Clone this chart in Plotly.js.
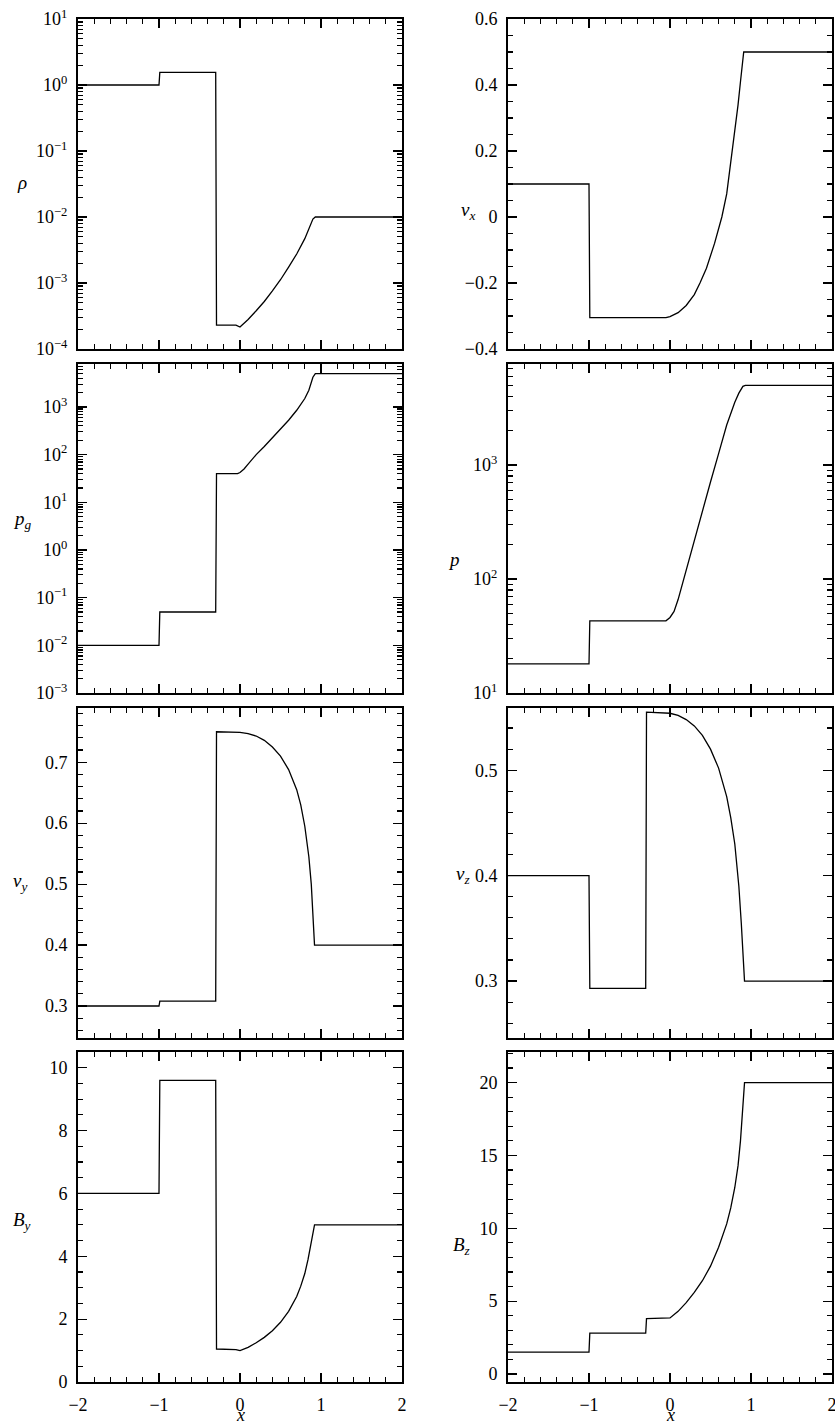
<!DOCTYPE html>
<html><head><meta charset="utf-8">
<script src="https://cdn.plot.ly/plotly-3.0.1.min.js"></script>
<style>html,body{margin:0;padding:0;background:#fff}#chart{width:835px;height:1426px}</style>
</head><body><div id="chart"></div>
<script>
// ---- data ----
const x_rho = [-2, -1.0, -0.99, -0.30, -0.29, -0.05, 0.0, 0.1, 0.2, 0.3, 0.4, 0.5, 0.6, 0.7, 0.8, 0.85, 0.9, 0.93, 2];
const rho   = [1, 1, 1.55, 1.55, 2.3e-4, 2.3e-4, 2.15e-4, 2.8e-4, 3.8e-4, 5.25e-4, 7.6e-4, 1.12e-3, 1.74e-3, 2.75e-3, 4.7e-3, 6.6e-3, 9.3e-3, 1e-2, 1e-2];

const x_vx = [-2, -1.0, -0.99, -0.05, 0.0, 0.1, 0.2, 0.3, 0.37, 0.45, 0.55, 0.64, 0.7, 0.76, 0.8, 0.84, 0.87, 0.89, 0.91, 2];
const vx   = [0.1, 0.1, -0.305, -0.305, -0.302, -0.29, -0.268, -0.235, -0.2, -0.155, -0.08, 0.0, 0.07, 0.18, 0.26, 0.34, 0.41, 0.46, 0.5, 0.5];

const x_pg = [-2, -1.0, -0.99, -0.30, -0.29, -0.03, 0.0, 0.05, 0.1, 0.2, 0.3, 0.4, 0.5, 0.6, 0.7, 0.8, 0.85, 0.9, 0.93, 2];
const pg   = [0.01, 0.01, 0.05, 0.05, 40, 40, 42, 50, 63, 100, 148, 224, 340, 525, 850, 1500, 2240, 4200, 5000, 5000];

const x_p = [-2, -1.0, -0.99, -0.05, 0.0, 0.05, 0.1, 0.15, 0.2, 0.3, 0.4, 0.5, 0.6, 0.7, 0.8, 0.85, 0.9, 0.93, 2];
const p   = [18, 18, 43, 43, 46, 52, 66, 89, 117, 224, 400, 710, 1260, 2240, 3550, 4270, 4900, 5000, 5000];

const x_vy = [-2, -1.0, -0.99, -0.30, -0.29, 0.0, 0.1, 0.2, 0.3, 0.4, 0.5, 0.6, 0.7, 0.75, 0.8, 0.85, 0.88, 0.9, 0.91, 0.92, 2];
const vy   = [0.3, 0.3, 0.308, 0.308, 0.75, 0.749, 0.747, 0.743, 0.736, 0.725, 0.71, 0.688, 0.655, 0.63, 0.595, 0.545, 0.5, 0.45, 0.415, 0.4, 0.4];

const x_vz = [-2, -1.0, -0.99, -0.30, -0.29, 0.0, 0.1, 0.2, 0.3, 0.4, 0.5, 0.6, 0.7, 0.75, 0.8, 0.85, 0.88, 0.9, 0.91, 0.92, 2];
const vz   = [0.4, 0.4, 0.293, 0.293, 0.555, 0.554, 0.552, 0.548, 0.542, 0.533, 0.52, 0.502, 0.475, 0.455, 0.43, 0.39, 0.355, 0.32, 0.305, 0.3, 0.3];

const x_By = [-2, -1.0, -0.99, -0.30, -0.29, -0.05, 0.0, 0.1, 0.2, 0.3, 0.4, 0.5, 0.6, 0.7, 0.75, 0.8, 0.84, 0.87, 0.89, 0.91, 0.92, 2];
const By   = [6, 6, 9.6, 9.6, 1.05, 1.03, 1.0, 1.1, 1.25, 1.42, 1.63, 1.9, 2.25, 2.72, 3.05, 3.45, 3.9, 4.3, 4.65, 4.95, 5.0, 5.0];

const x_Bz = [-2, -1.0, -0.99, -0.30, -0.29, 0.0, 0.1, 0.2, 0.3, 0.4, 0.5, 0.6, 0.7, 0.75, 0.8, 0.84, 0.87, 0.89, 0.91, 0.92, 2];
const Bz   = [1.5, 1.5, 2.8, 2.8, 3.8, 3.85, 4.3, 4.9, 5.6, 6.4, 7.4, 8.7, 10.3, 11.4, 12.8, 14.3, 16.0, 17.8, 19.6, 20, 20];

// tick labels
const xTickVals = [-2, -1, 0, 1, 2];
const xTickText = ['\u22122', '\u22121', '0', '1', '2'];
const rhoTickVals = [1e-4, 1e-3, 1e-2, 1e-1, 1, 10];
const rhoTickText = ['10<sup>\u22124</sup>', '10<sup>\u22123</sup>', '10<sup>\u22122</sup>', '10<sup>\u22121</sup>', '10<sup>0</sup>', '10<sup>1</sup>'];
const pgTickVals = [1e-3, 1e-2, 1e-1, 1, 10, 100, 1000];
const pgTickText = ['10<sup>\u22123</sup>', '10<sup>\u22122</sup>', '10<sup>\u22121</sup>', '10<sup>0</sup>', '10<sup>1</sup>', '10<sup>2</sup>', '10<sup>3</sup>'];
const pTickVals = [10, 100, 1000];
const pTickText = ['10<sup>1</sup>', '10<sup>2</sup>', '10<sup>3</sup>'];

const yTitles = ['<i>\u03c1</i>', '<i>v<sub>x</sub></i>', '<i>p<sub>g</sub></i>', '<i>p</i>', '<i>v<sub>y</sub></i>', '<i>v<sub>z</sub></i>', '<i>B<sub>y</sub></i>', '<i>B<sub>z</sub></i>'];

// ---- layout helpers ----
const W = 835, H = 1426;
const FONT = 'Liberation Serif, Times New Roman, serif';
const colPx = [[78, 402], [508, 832]];
const rowPx = [[19, 349], [364, 693], [708, 1038], [1052, 1382]];

const series = [[x_rho, rho], [x_vx, vx], [x_pg, pg], [x_p, p], [x_vy, vy], [x_vz, vz], [x_By, By], [x_Bz, Bz]];

const yCfg = [
  {type: 'log', range: [-4, 1], tickmode: 'array', tickvals: rhoTickVals, ticktext: rhoTickText, minor: {dtick: 'D1'}},
  {range: [-0.4, 0.6], dtick: 0.2, tick0: 0, minor: {dtick: 0.05}},
  {type: 'log', range: [-3, 3.9], tickmode: 'array', tickvals: pgTickVals, ticktext: pgTickText, minor: {dtick: 'D1'}},
  {type: 'log', range: [1, 3.886], tickmode: 'array', tickvals: pTickVals, ticktext: pTickText, minor: {dtick: 'D1'}},
  {range: [0.2475, 0.789], dtick: 0.1, tick0: 0, minor: {dtick: 0.02}},
  {range: [0.246, 0.559], dtick: 0.1, tick0: 0, minor: {dtick: 0.02}},
  {range: [0, 10.5], dtick: 2, tick0: 0, minor: {dtick: 0.5}},
  {range: [-0.55, 22.1], dtick: 5, tick0: 0, minor: {dtick: 1}}
];

const titlePos = [[22, 183], [468, 211], [22, 520], [454, 559], [20, 882], [463, 875], [22, 1221], [462, 1246]];

const data = [];
const layout = {
  width: W, height: H, margin: {l: 0, r: 0, t: 0, b: 0},
  paper_bgcolor: '#fff', plot_bgcolor: '#fff', showlegend: false,
  font: {family: FONT, size: 18, color: '#000'},
  annotations: []
};

for (let i = 0; i < 8; i++) {
  const col = i % 2, row = Math.floor(i / 2);
  const n = i + 1;
  const xa = 'x' + (n === 1 ? '' : n), ya = 'y' + (n === 1 ? '' : n);
  data.push({x: series[i][0], y: series[i][1], xaxis: xa, yaxis: ya, type: 'scatter', mode: 'lines',
             line: {color: '#000', width: 1.3}, hoverinfo: 'skip'});
  const common = {
    showline: true, linewidth: 2, linecolor: '#000', mirror: 'allticks',
    ticks: 'inside', ticklen: 9, tickwidth: 1.2, tickcolor: '#000',
    showgrid: false, zeroline: false, ticklabelstandoff: 5, ticklabeloverflow: 'allow',
    tickfont: {family: FONT, size: 18, color: '#000'}
  };
  layout['xaxis' + (n === 1 ? '' : n)] = Object.assign({}, common, {
    domain: [colPx[col][0] / W, colPx[col][1] / W],
    anchor: ya, range: [-2, 2], tickmode: 'array', tickvals: xTickVals, ticktext: xTickText,
    showticklabels: row === 3,
    minor: {dtick: 0.2, tick0: -2, ticks: 'inside', ticklen: 5, tickwidth: 1.2, tickcolor: '#000', showgrid: false}
  });
  const yc = Object.assign({}, common, yCfg[i]);
  yc.minor = Object.assign({ticks: 'inside', ticklen: 5, tickwidth: 1.2, tickcolor: '#000', showgrid: false}, yCfg[i].minor);
  yc.domain = [1 - rowPx[row][1] / H, 1 - rowPx[row][0] / H];
  yc.anchor = xa;
  layout['yaxis' + (n === 1 ? '' : n)] = yc;
  layout.annotations.push({text: yTitles[i], xref: 'paper', yref: 'paper', x: titlePos[i][0] / W, y: 1 - titlePos[i][1] / H,
    xanchor: 'center', yanchor: 'middle', showarrow: false, font: {family: FONT, size: 19, color: '#000'}});
}
// x-axis titles for bottom row
[240, 670].forEach(function (px) {
  layout.annotations.push({text: '<i>x</i>', xref: 'paper', yref: 'paper', x: px / W, y: 0,
    xanchor: 'center', yanchor: 'bottom', borderpad: 0, showarrow: false, font: {family: FONT, size: 18, color: '#000'}});
});

Plotly.newPlot('chart', data, layout, {staticPlot: true, displayModeBar: false});
</script>
</body></html>
